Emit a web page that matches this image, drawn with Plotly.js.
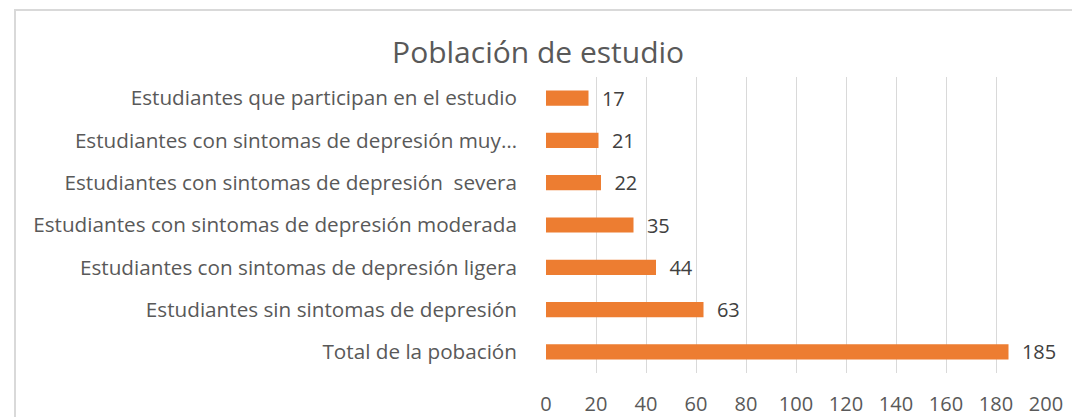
<!DOCTYPE html>
<html><head><meta charset="utf-8">
<script src="https://cdn.plot.ly/plotly-3.0.1.min.js"></script>
<style>body{margin:0;background:#fff}#c{width:1072px;height:417px}</style>
</head><body><div id="c"></div>
<script>
const categories = [
  "Total de la pobación",
  "Estudiantes sin sintomas de depresión",
  "Estudiantes con sintomas de depresión ligera",
  "Estudiantes con sintomas de depresión moderada",
  "Estudiantes con sintomas de depresión  severa",
  "Estudiantes con sintomas de depresión muy…",
  "Estudiantes que participan en el estudio"
];
const values = [185, 63, 44, 35, 22, 21, 17];
const tickVals = [0,20,40,60,80,100,120,140,160,180,200];

const font = "Open Sans, sans-serif";
Plotly.newPlot('c', [{
  type: 'bar', orientation: 'h',
  y: categories, x: values,
  marker: {color: '#ED7D31'},
  text: values.map(v => String(v)),
  texttemplate: '  %{text}',
  textposition: 'outside',
  constraintext: 'none',
  cliponaxis: false,
  textfont: {family: font, size: 20, color: '#404040'},
  hoverinfo: 'none'
}], {
  width: 1072, height: 417,
  margin: {l: 546, r: 26, t: 77, b: 44},
  paper_bgcolor: '#fff', plot_bgcolor: '#fff',
  bargap: 0.64,
  showlegend: false,
  title: {text: 'Población de estudio', x: 0.502, xanchor: 'center', y: 0.875, yanchor: 'middle',
          font: {family: font, size: 30, color: '#595959'}},
  xaxis: {range: [0, 200], tickvals: tickVals, ticktext: tickVals.map(String),
          showgrid: true, gridcolor: '#D9D9D9', gridwidth: 1, zeroline: false,
          showline: false, ticks: 'outside', ticklen: 0, ticklabelstandoff: 13,
          tickfont: {family: font, size: 20, color: '#595959'}, fixedrange: true},
  yaxis: {type: 'category', showgrid: false, zeroline: false, showline: false,
          ticks: '', ticklabelstandoff: 28,
          tickfont: {family: font, size: 20.7, color: '#595959'}, fixedrange: true}
}, {staticPlot: true, displayModeBar: false});
</script>
<div style="position:absolute;left:14px;top:9px;width:1080px;height:430px;border:2px solid #D9D9D9;pointer-events:none;box-sizing:border-box"></div>
</body></html>
